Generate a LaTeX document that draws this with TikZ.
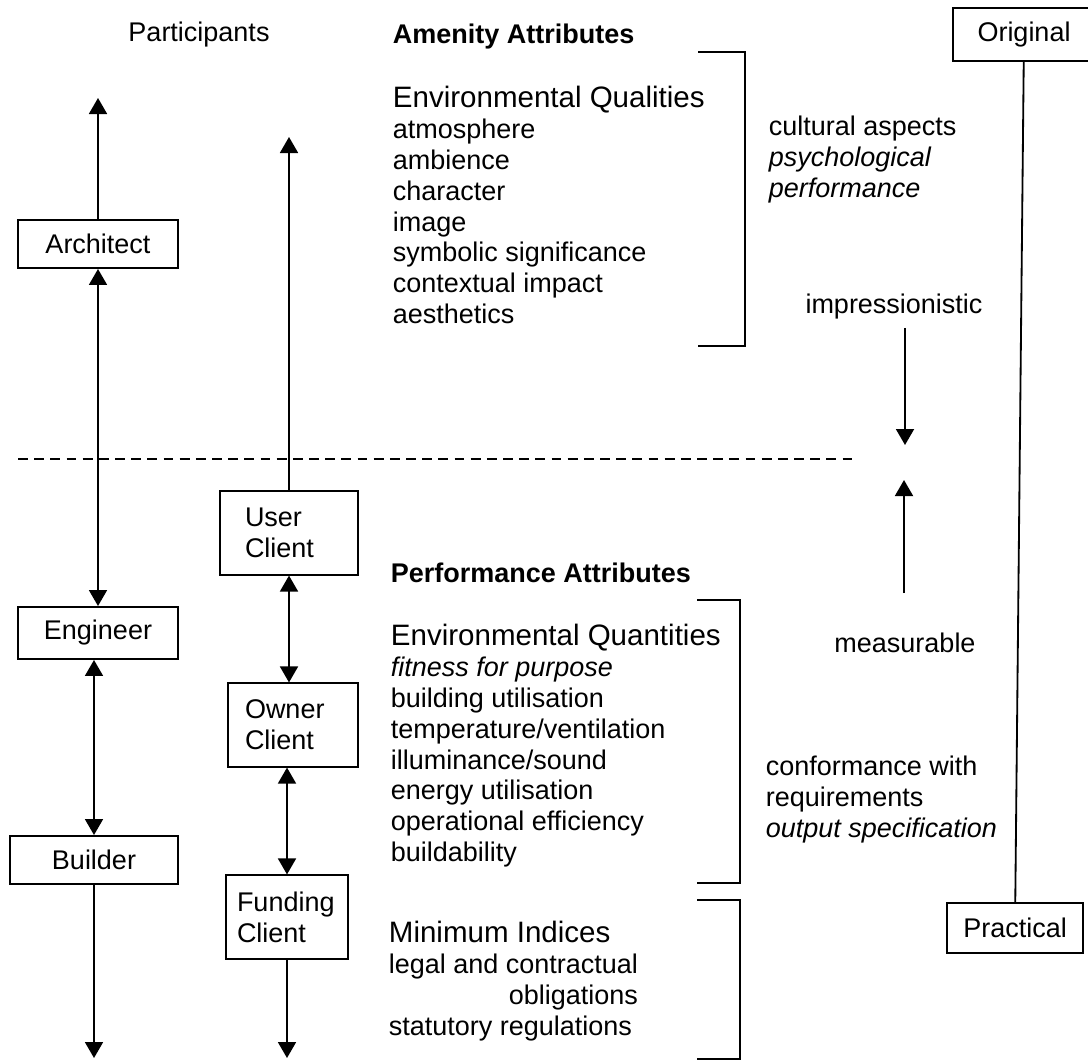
\documentclass[tikz,border=0pt]{standalone}
\usepackage{fontspec}
\setmainfont{Liberation Sans}
\usetikzlibrary{arrows.meta,positioning}
\newcommand\headfont{\fontsize{21}{22}\selectfont}

\begin{document}
\begin{tikzpicture}[>={Triangle[length=0.4cm,width=0.45cm]},line width=1.3pt,
  every node/.style={font=\fontsize{19.2}{22}\selectfont},
  part node/.style={draw,line width=1.4pt,minimum width=4cm,minimum height=1.2cm},
  client node/.style={draw,line width=1.4pt,align=left,minimum height=2.08cm},
  label node/.style={inner sep=0pt,align=left}]
\useasboundingbox (0,0) rectangle (27.2,-26.525);
% column headings
\node[label node,anchor=north] (part) at (4.975,-0.525) {Participants};
\node[label node,anchor=north west] (amen) at (9.8,-0.575) {\bfseries Amenity Attributes};
\node[label node,anchor=north west] (perf) at (9.75,-14.05) {\bfseries Performance Attributes};
% attribute lists
\node[label node,anchor=north west] (qual) at (9.8,-2.125) {{\headfont Environmental Qualities}\\atmosphere\\ambience\\character\\image\\symbolic significance\\contextual impact\\aesthetics};
\node[label node,anchor=north west] (quan) at (9.75,-15.575) {{\headfont Environmental Quantities}\\\textit{fitness for purpose}\\building utilisation\\temperature/ventilation\\illuminance/sound\\energy utilisation\\operational efficiency\\buildability};
\node[label node,anchor=north west] (mini) at (9.7,-23) {{\headfont Minimum Indices}\\legal and contractual\\\phantom{legal and contractual}\llap{obligations}\\statutory regulations};
\node[label node,anchor=north west] (cult) at (19.2,-2.875) {cultural aspects\\\textit{psychological}\\\textit{performance}};
\node[label node,anchor=north west] (conf) at (19.125,-18.875) {conformance with\\requirements\\\textit{output specification}};
\node[label node,anchor=north] (impr) at (22.35,-7.325) {impressionistic};
\node[label node,anchor=north] (meas) at (22.625,-15.8) {measurable};
% participants
\node[part node] (arch) at (2.45,-6.1) {Architect};
\node[part node,minimum height=1.3cm] (eng) at (2.45,-15.825) {Engineer};
\node[part node,minimum width=4.2cm] (build) at (2.35,-21.5) {Builder};
\node[client node,text width=2.2cm,inner xsep=0.625cm] (user) at (7.225,-13.325) {User\\Client};
\node[client node,text width=2.4cm,inner xsep=0.425cm] (owner) at (7.325,-18.125) {Owner\\Client};
\node[client node,text width=2.5cm,inner xsep=0.275cm] (fund) at (7.175,-22.925) {Funding\\Client};
\node[part node,minimum width=3.53cm,minimum height=1.33cm] (orig) at (25.6,-0.8625) {Original};
\node[part node,minimum width=3.4cm,minimum height=1.25cm] (prac) at (25.375,-23.2) {Practical};
\coordinate (archup) at (2.45,-2.45);
\coordinate (builddown) at (2.35,-26.45);
\coordinate (userup) at (7.225,-3.425);
\coordinate (funddown) at (7.175,-26.45);
\coordinate (imprtip) at (22.625,-11.125);
\coordinate (meastail) at (22.6,-14.825);
\coordinate (meastip) at (22.6,-12);
\coordinate (divleft) at (0.45,-11.475);
\coordinate (divright) at (21.325,-11.475);
\draw[->] (arch) -- (archup);
\draw[<->] (arch) -- (eng);
\draw[<->] (build.north |- eng.south) -- (build);
\draw[->] (build) -- (builddown);
\draw[->] (user) -- (userup);
\draw[<->] (user) -- (user.south |- owner.north);
\draw[<->] (fund.north |- owner.south) -- (fund);
\draw[->] (fund) -- (funddown);
\draw (orig) -- (prac);
\draw[->] (impr.south -| imprtip) ++(0,-0.2) -- (imprtip);
\draw[->] (meastail) -- (meastip);
\draw[dash pattern=on 7pt off 4.5pt] (divleft) -- (divright);
% brackets
\draw (17.45,-1.3) -| (18.625,-8.65) -- (17.45,-8.65);
\draw (17.425,-15) -| (18.5,-22.075) -- (17.425,-22.075);
\draw (17.425,-22.5) -| (18.5,-26.475) -- (17.425,-26.475);
\end{tikzpicture}
\end{document}
